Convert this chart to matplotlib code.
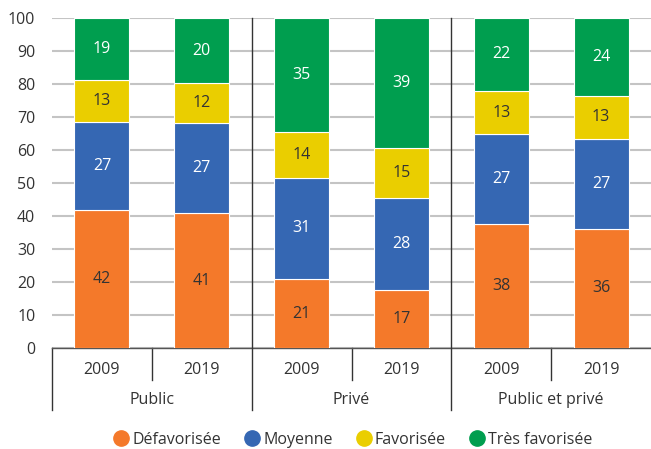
import matplotlib
matplotlib.use("Agg")
import matplotlib.pyplot as plt
from matplotlib.lines import Line2D
import matplotlib.transforms as mtransforms

years = ["2009", "2019", "2009", "2019", "2009", "2019"]
groups = ["Public", "Privé", "Public et privé"]
series = ["Défavorisée", "Moyenne", "Favorisée", "Très favorisée"]

defav = [41.8, 40.9, 20.9, 17.5, 37.6, 36.1]
moyenne = [26.7, 27.3, 30.7, 28.0, 27.2, 27.2]
favor = [12.7, 12.1, 14.0, 15.1, 13.1, 13.1]
tres = [18.8, 19.7, 34.4, 39.4, 22.1, 23.6]

lab_defav = [42, 41, 21, 17, 38, 36]
lab_moy = [27, 27, 31, 28, 27, 27]
lab_fav = [13, 12, 14, 15, 13, 13]
lab_tres = [19, 20, 35, 39, 22, 24]

colors = ["#F4792A", "#3567B3", "#EACE00", "#009E4F"]
text_colors = ["#333333", "white", "#333333", "white"]

plt.rcParams['font.family'] = ['Open Sans', 'DejaVu Sans']
FS = 11.5

fig = plt.figure(figsize=(6.51, 4.49), dpi=100)
ax = fig.add_axes([52/651, 1-348/449, 1-52/651, 330/449])

x = list(range(len(years)))
bottoms = [0]*len(years)
vals = [defav, moyenne, favor, tres]
labs = [lab_defav, lab_moy, lab_fav, lab_tres]
for s, v, lb, c, tc in zip(series, vals, labs, colors, text_colors):
    ax.bar(x, v, bottom=bottoms, width=0.55, color=c, edgecolor="white", linewidth=0.8, zorder=3, label=s)
    for i in x:
        ax.text(i, bottoms[i] + v[i]/2, str(lb[i]), ha="center", va="center", color=tc, fontsize=FS, zorder=4)
    bottoms = [b + vv for b, vv in zip(bottoms, v)]

ax.set_xlim(-0.5, 5.5)
ax.set_ylim(0, 100)
ax.set_yticks(range(0, 101, 10))
ax.yaxis.grid(True, color="#c4c4c4", linewidth=1.5, zorder=0)
ax.set_axisbelow(True)
for sp in ["top", "right", "left"]:
    ax.spines[sp].set_visible(False)
ax.spines["bottom"].set_color("#555555")
ax.spines["bottom"].set_linewidth(1.0)
ax.tick_params(axis="y", length=0, pad=12, labelsize=FS, labelcolor="#333333")
ax.set_xticks(x)
ax.set_xticklabels(years)
ax.tick_params(axis="x", length=0, pad=10, labelsize=FS, labelcolor="#333333")

trans = mtransforms.blended_transform_factory(ax.transData, ax.transAxes)
for xs in [1.5, 3.5]:
    ax.plot([xs, xs], [1, -0.188], transform=trans, color="#333333", linewidth=1.0, clip_on=False, zorder=5)
ax.plot([-0.5, -0.5], [0, -0.188], transform=trans, color="#333333", linewidth=1.0, clip_on=False)
for xs in [0.5, 2.5, 4.5]:
    ax.plot([xs, xs], [0, -0.097], transform=trans, color="#333333", linewidth=1.0, clip_on=False)
for gi, g in enumerate(groups):
    ax.text(gi*2 + 0.5, -0.158, g, transform=trans, ha="center", va="center", fontsize=FS, color="#333333")

handles = [Line2D([0], [0], marker="o", linestyle="", markersize=11, markerfacecolor=c, markeredgecolor=c) for c in colors]
fig.legend(handles, series, loc="center", bbox_to_anchor=(352/651, 1-440/449), ncol=4, frameon=False,
           fontsize=FS, handletextpad=0.1, columnspacing=1.35, handlelength=1.2, labelcolor="#333333")

fig.savefig("out.png", dpi=100)
